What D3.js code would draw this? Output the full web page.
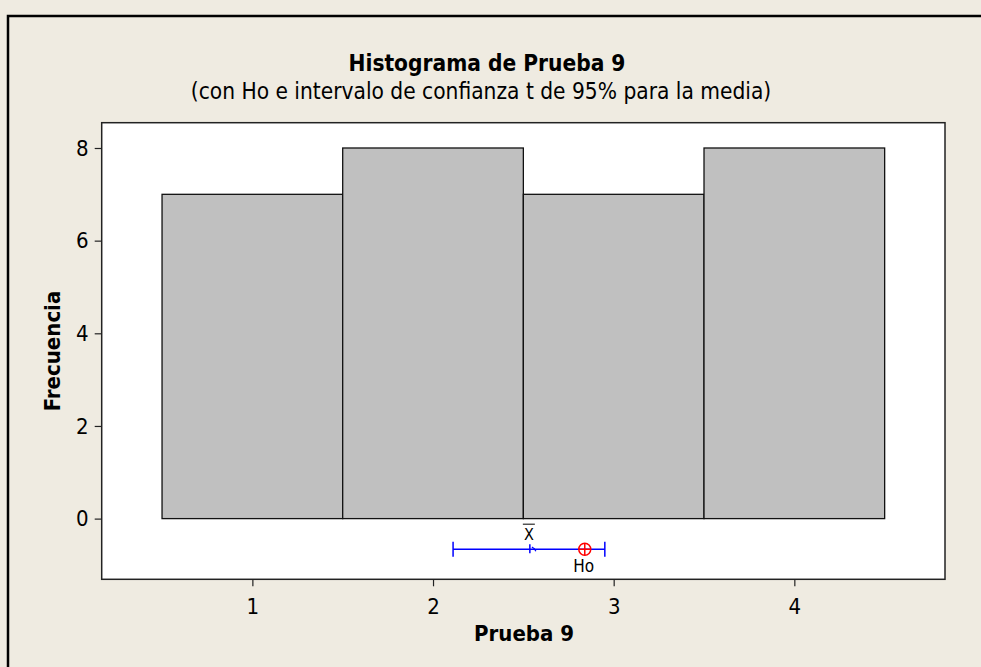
<!DOCTYPE html>
<html>
<head>
<meta charset="utf-8">
<script src="https://cdn.jsdelivr.net/npm/d3@7"></script>
<style>
  body { margin: 0; background: #fff; }
  svg text { font-family: Tahoma, "DejaVu Sans Condensed", "DejaVu Sans", sans-serif; }
</style>
</head>
<body>
<svg width="981" height="667"></svg>
<script>
// datos del histograma
const binCenters = [1, 2, 3, 4];
const counts = [7, 8, 7, 8];
const binWidth = 1;
const xTicks = [1, 2, 3, 4];
const yTicks = [0, 2, 4, 6, 8];

// intervalo t de 95% para la media y Ho
const ciLower = 2.111;
const ciUpper = 2.951;
const xMean = 2.536;
const h0 = 2.84;
const ciLevel = -0.66; // altura del intervalo en unidades del eje Y

const svg = d3.select("svg");

const area = { left: 101.7, right: 945, top: 122.7, bottom: 579.3 };

// fondo y marco exterior
svg.append("rect").attr("width", 981).attr("height", 667).attr("fill", "#efebe1");
svg.append("rect")
    .attr("x", 8).attr("y", 16).attr("width", 1100).attr("height", 800)
    .attr("fill", "none").attr("stroke", "#000").attr("stroke-width", 2.5);

const scX = d3.scaleLinear().domain([0.166, 4.834]).range([area.left, area.right]);
const scY = d3.scaleLinear().domain([-1.31, 8.546]).range([area.bottom, area.top]);

// área de datos
svg.append("rect")
    .attr("x", area.left).attr("y", area.top)
    .attr("width", area.right - area.left).attr("height", area.bottom - area.top)
    .attr("fill", "#fff").attr("stroke", "#222").attr("stroke-width", 1.5);

// barras
svg.selectAll(".bar")
    .data(binCenters)
    .enter()
    .append("rect")
    .attr("x", d => scX(d - binWidth / 2))
    .attr("y", (d, i) => scY(counts[i]))
    .attr("width", d => scX(d + binWidth / 2) - scX(d - binWidth / 2))
    .attr("height", (d, i) => scY(0) - scY(counts[i]))
    .attr("fill", "#c0c0c0").attr("stroke", "#111").attr("stroke-width", 1.3);

// ejes
const axisX = d3.axisBottom(scX).tickValues(xTicks).tickSize(7).tickPadding(12).tickFormat(d3.format("d"));
const axisY = d3.axisLeft(scY).tickValues(yTicks).tickSize(7).tickPadding(6).tickFormat(d3.format("d"));

const gx = svg.append("g").attr("transform", `translate(0, ${area.bottom})`).call(axisX);
const gy = svg.append("g").attr("transform", `translate(${area.left}, 0)`).call(axisY);
[gx, gy].forEach(g => {
    g.select(".domain").remove();
    g.selectAll("line").attr("stroke", "#222").attr("stroke-width", 1.2);
    g.selectAll("text").attr("fill", "#000").style("font-size", "22px");
});

// intervalo de confianza
const yc = scY(ciLevel);
svg.append("line")
    .attr("x1", scX(ciLower)).attr("x2", scX(ciUpper))
    .attr("y1", yc).attr("y2", yc)
    .attr("stroke", "#0000ff").attr("stroke-width", 1.5);
[ciLower, ciUpper].forEach(v => {
    svg.append("line")
        .attr("x1", scX(v)).attr("x2", scX(v))
        .attr("y1", yc - 7.5).attr("y2", yc + 7.5)
        .attr("stroke", "#0000ff").attr("stroke-width", 1.5);
});
svg.append("line")
    .attr("x1", scX(xMean)).attr("x2", scX(xMean))
    .attr("y1", yc - 5).attr("y2", yc + 4)
    .attr("stroke", "#0000ff").attr("stroke-width", 1.5);
svg.append("path")
    .attr("d", `M${scX(xMean) + 2},${yc - 2} Q${scX(xMean) + 5},${yc - 1} ${scX(xMean) + 6},${yc + 2}`)
    .attr("stroke", "#0000ff").attr("stroke-width", 1.2).attr("fill", "none");

// Ho
const hx = scX(h0);
svg.append("circle").attr("cx", hx).attr("cy", yc).attr("r", 6)
    .attr("fill", "none").attr("stroke", "#ff0000").attr("stroke-width", 1.5);
svg.append("path")
    .attr("d", `M${hx - 6},${yc} H${hx + 6} M${hx},${yc - 6} V${yc + 6}`)
    .attr("stroke", "#ff0000").attr("stroke-width", 1.5);

// etiquetas de X barra y Ho
svg.append("text").attr("x", scX(xMean) - 1).attr("y", yc - 9)
    .attr("text-anchor", "middle").style("font-size", "16px").text("X");
svg.append("line")
    .attr("x1", scX(xMean) - 7).attr("x2", scX(xMean) + 5)
    .attr("y1", yc - 25).attr("y2", yc - 25)
    .attr("stroke", "#000").attr("stroke-width", 1);
svg.append("text").attr("x", hx - 1).attr("y", yc + 23)
    .attr("text-anchor", "middle").style("font-size", "17px").text("Ho");

// títulos
svg.append("text").attr("x", 487).attr("y", 71)
    .attr("text-anchor", "middle").style("font-size", "22.5px").style("font-weight", "bold")
    .text("Histograma de Prueba 9");
svg.append("text").attr("x", 481).attr("y", 99)
    .attr("text-anchor", "middle").style("font-size", "22.5px")
    .text("(con Ho e intervalo de confianza t de 95% para la media)");
svg.append("text").attr("x", 524).attr("y", 641)
    .attr("text-anchor", "middle").style("font-size", "22px").style("font-weight", "bold")
    .text("Prueba 9");
svg.append("text")
    .attr("transform", "translate(60, 351) rotate(-90)")
    .attr("text-anchor", "middle").style("font-size", "22px").style("font-weight", "bold")
    .text("Frecuencia");
</script>
</body>
</html>
